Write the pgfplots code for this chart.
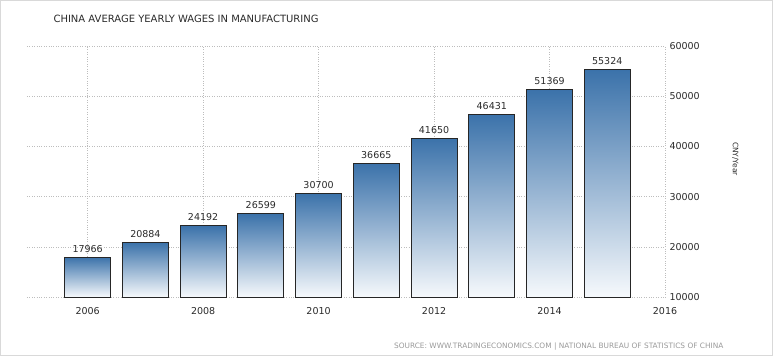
\documentclass[border=0pt]{standalone}
\usepackage{pgfplots}
\pgfplotsset{compat=1.18}
\usepackage{fontspec}
\setmainfont{DejaVu Sans}
\definecolor{bartop}{HTML}{3B72AA}
\definecolor{barbot}{HTML}{F6F9FC}
\definecolor{txt}{HTML}{2A2A2A}
\definecolor{gridc}{HTML}{BDBDBD}
\begin{document}
\begin{tikzpicture}[x=1pt,y=1pt]
\path[use as bounding box] (0,0) rectangle (773,356);
\draw[gray!30] (0.5,0.5) rectangle (772.5,355.5);
\begin{axis}[
  at={(27pt,59pt)}, anchor=south west,
  scale only axis, width=638pt, height=251pt,
  xmin=2004.95, xmax=2016, ymin=10000, ymax=60000,
  ybar, bar width=46pt, bar shift=0pt,
  axis line style={draw=none},
  major tick length=0pt,
  xtick={2006,2008,2010,2012,2014,2016},
  ytick={10000,20000,30000,40000,50000,60000},
  scaled y ticks=false,
  xmajorgrids, ymajorgrids,
  grid style={gridc, dotted, line width=0.5pt},
  yticklabel pos=right,
  /pgf/number format/assume math mode=true,
  xticklabel style={font=\fontsize{9.5}{11}\selectfont, text=txt, yshift=-7pt},
  yticklabel style={font=\fontsize{9.5}{11}\selectfont, text=txt, anchor=west, xshift=1pt},
  x tick label style={/pgf/number format/1000 sep={}},
  y tick label style={/pgf/number format/1000 sep={}},
  nodes near coords,
  nodes near coords style={font=\fontsize{9.5}{11}\selectfont, text=txt, /pgf/number format/1000 sep={}, /pgf/number format/assume math mode=true, yshift=1pt},
  ylabel={CNY/Year},
  ylabel style={font=\fontsize{7.5}{8}\selectfont, text=txt, rotate=180, at={(1.11,0.55)}, anchor=center},
  clip=false,
  mybar/.style={draw=black!85, line width=0.9pt, top color=bartop, bottom color=barbot},
]
\addplot[mybar] coordinates {(2006,17966)};
\addplot[mybar] coordinates {(2007,20884)};
\addplot[mybar] coordinates {(2008,24192)};
\addplot[mybar] coordinates {(2009,26599)};
\addplot[mybar] coordinates {(2010,30700)};
\addplot[mybar] coordinates {(2011,36665)};
\addplot[mybar] coordinates {(2012,41650)};
\addplot[mybar] coordinates {(2013,46431)};
\addplot[mybar] coordinates {(2014,51369)};
\addplot[mybar] coordinates {(2015,55324)};
\end{axis}
\node[anchor=west, text=txt, font=\fontsize{10}{12}\selectfont] at (50,337) {CHINA AVERAGE YEARLY WAGES IN MANUFACTURING};
\node[anchor=east, text=gray!80, font=\fontsize{7.4}{8}\selectfont] at (727,9) {SOURCE: WWW.TRADINGECONOMICS.COM \textbar{} NATIONAL BUREAU OF STATISTICS OF CHINA};
\end{tikzpicture}
\end{document}
